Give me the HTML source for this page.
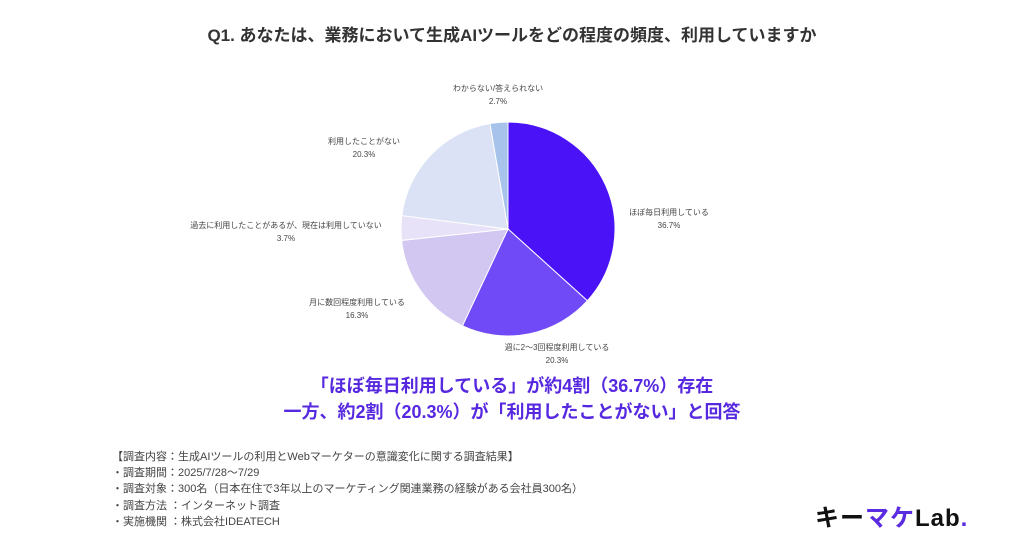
<!DOCTYPE html>
<html><head><meta charset="utf-8"><style>
body{margin:0;width:1024px;height:538px;background:#fff;overflow:hidden;position:relative;font-family:"Liberation Sans","Noto Sans CJK JP",sans-serif;}
.t{position:absolute;white-space:nowrap}
.lab{position:absolute;font-size:8px;color:#444;text-align:center;transform:translateX(-50%);line-height:13px;white-space:nowrap}
.fn{position:absolute;left:112px;font-size:11px;color:#444;line-height:16.2px;top:449px}
</style></head><body>
<div class="t" style="left:0;width:1024px;text-align:center;top:21px;font-size:17px;font-weight:bold;color:#333">Q1. あなたは、業務において生成AIツールをどの程度の頻度、利用していますか</div>
<svg id="pie" width="1024" height="538" style="position:absolute;left:0;top:0"></svg>
<div class="lab" style="left:498px;top:82px">わからない/答えられない<br>2.7%</div>
<div class="lab" style="left:364px;top:135px">利用したことがない<br>20.3%</div>
<div class="lab" style="left:286px;top:219px">過去に利用したことがあるが、現在は利用していない<br>3.7%</div>
<div class="lab" style="left:357px;top:296px">月に数回程度利用している<br>16.3%</div>
<div class="lab" style="left:557px;top:341px">週に2〜3回程度利用している<br>20.3%</div>
<div class="lab" style="left:669px;top:206px">ほぼ毎日利用している<br>36.7%</div>
<div class="t" style="left:0;width:1024px;text-align:center;top:373px;font-size:18px;font-weight:bold;color:#5628e0;line-height:26px">「ほぼ毎日利用している」が約4割（36.7%）存在<br>一方、約2割（20.3%）が「利用したことがない」と回答</div>
<div class="fn">【調査内容：生成AIツールの利用とWebマーケターの意識変化に関する調査結果】<br>・調査期間：2025/7/28〜7/29<br>・調査対象：300名（日本在住で3年以上のマーケティング関連業務の経験がある会社員300名）<br>・調査方法 ：インターネット調査<br>・実施機関 ：株式会社IDEATECH</div>
<div class="t" style="left:815px;top:498px;font-size:24px;font-weight:bold;letter-spacing:1px;color:#111">キー<span style="color:#5a2be0">マケ</span>Lab<span style="color:#5a2be0">.</span></div>
<script>
var d=[[36.7,"#4a12f6"],[20.3,"#6f4af6"],[16.3,"#d1c7f1"],[3.7,"#e7e2f8"],[20.3,"#dbe2f6"],[2.7,"#a7c3ec"]];
var cx=508,cy=229,r=107,a=0,s="";
d.forEach(function(p){var a0=a/100*2*Math.PI,a1=(a+p[0])/100*2*Math.PI;a+=p[0];
var x0=cx+r*Math.sin(a0),y0=cy-r*Math.cos(a0),x1=cx+r*Math.sin(a1),y1=cy-r*Math.cos(a1);
s+='<path d="M'+cx+','+cy+'L'+x0+','+y0+'A'+r+','+r+' 0 '+(p[0]>50?1:0)+' 1 '+x1+','+y1+'Z" fill="'+p[1]+'" stroke="#fff" stroke-width="1"/>';});
document.getElementById("pie").innerHTML=s;
</script>
</body></html>
